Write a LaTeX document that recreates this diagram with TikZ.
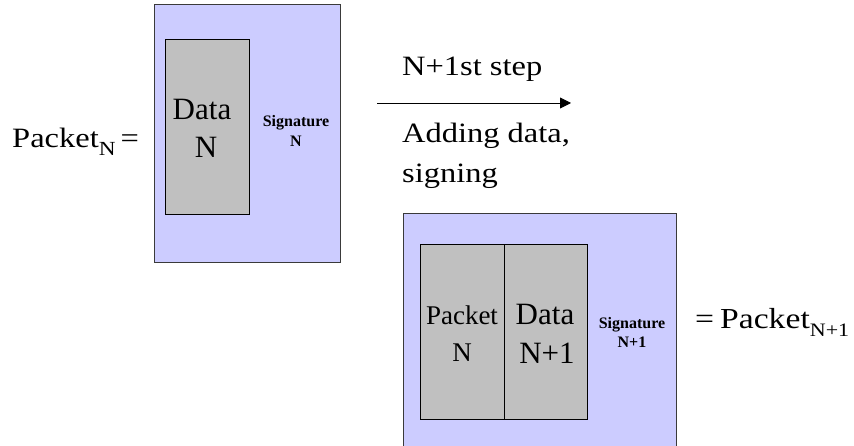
\documentclass[tikz,border=0pt]{standalone}
\usepackage{fontspec}
\setmainfont{Liberation Serif}
\newfontfamily\widefont{Liberation Serif}[FakeStretch=1.16]
\usetikzlibrary{arrows.meta}
\definecolor{lav}{HTML}{CCCCFF}
\definecolor{cellgray}{HTML}{C0C0C0}
\definecolor{edgegray}{HTML}{3A3A3A}
\begin{document}
\begin{tikzpicture}[x=1pt,y=-1pt,
  outerbox/.style={draw=edgegray,fill=lav,line width=1pt,anchor=north west,
    inner sep=0pt,outer sep=0pt},
  cellbox/.style={draw=black,fill=cellgray,line width=0.9pt,anchor=north west,
    inner sep=0pt,outer sep=0pt},
  big/.style={inner sep=0pt,anchor=base,font=\fontsize{31}{37}\selectfont},
  mid/.style={inner sep=0pt,anchor=base,font=\fontsize{27}{32}\selectfont},
  sig/.style={inner sep=0pt,anchor=base,font=\bfseries\fontsize{16}{19}\selectfont},
  side/.style={inner sep=0pt,anchor=base west,font=\widefont\fontsize{28}{34}\selectfont},
  flow/.style={line width=0.9pt,-{Triangle[length=11pt,width=11pt]}}]
\useasboundingbox (0,0) rectangle (854,446);
\clip (0,0) rectangle (854,446);

% packet N
\node[outerbox,minimum width=186pt,minimum height=258pt] (pktN) at (154,5) {};
\node[cellbox,minimum width=84pt,minimum height=175pt] (dataN) at (165,39) {};
\node[big] (dataNa) at (202,120) {Data};
\node[big] (dataNb) at (206,158) {N};
\node[sig] (sigNa) at (296,127) {Signature};
\node[sig] (sigNb) at (296,147) {N};
\node[side] (lblN) at (12,148)
  {Packet\raisebox{-8pt}{\fontsize{20}{20}\selectfont N}\hspace{5pt}=};

% step arrow and its captions
\coordinate (arrs) at (377,103);
\coordinate (arre) at (571,103);
\draw[flow] (arrs) -- (arre);
\node[side] (stepa) at (402,76) {N+1st step};
\node[side] (stepb) at (402,143) {Adding data,};
\node[side] (stepc) at (402,183) {signing};

% packet N+1
\node[outerbox,minimum width=273pt,minimum height=260pt] (pktM) at (403,214) {};
\node[cellbox,minimum width=84pt,minimum height=175pt] (oldpkt) at (420,244) {};
\node[cellbox,minimum width=83pt,minimum height=175pt] (dataM) at (504,244) {};
\node[mid] (oldpkta) at (462,324) {Packet};
\node[mid] (oldpktb) at (462,361) {N};
\node[big] (dataMa) at (545,324) {Data};
\node[big] (dataMb) at (547,363) {N+1};
\node[sig] (sigMa) at (632,328) {Signature};
\node[sig] (sigMb) at (632,347) {N+1};
\node[side,font=\widefont\fontsize{29}{35}\selectfont] (lblM) at (695,329)
  {=\hspace{6pt}Packet\raisebox{-8pt}{\fontsize{19}{19}\selectfont N+1}};
\end{tikzpicture}
\end{document}
